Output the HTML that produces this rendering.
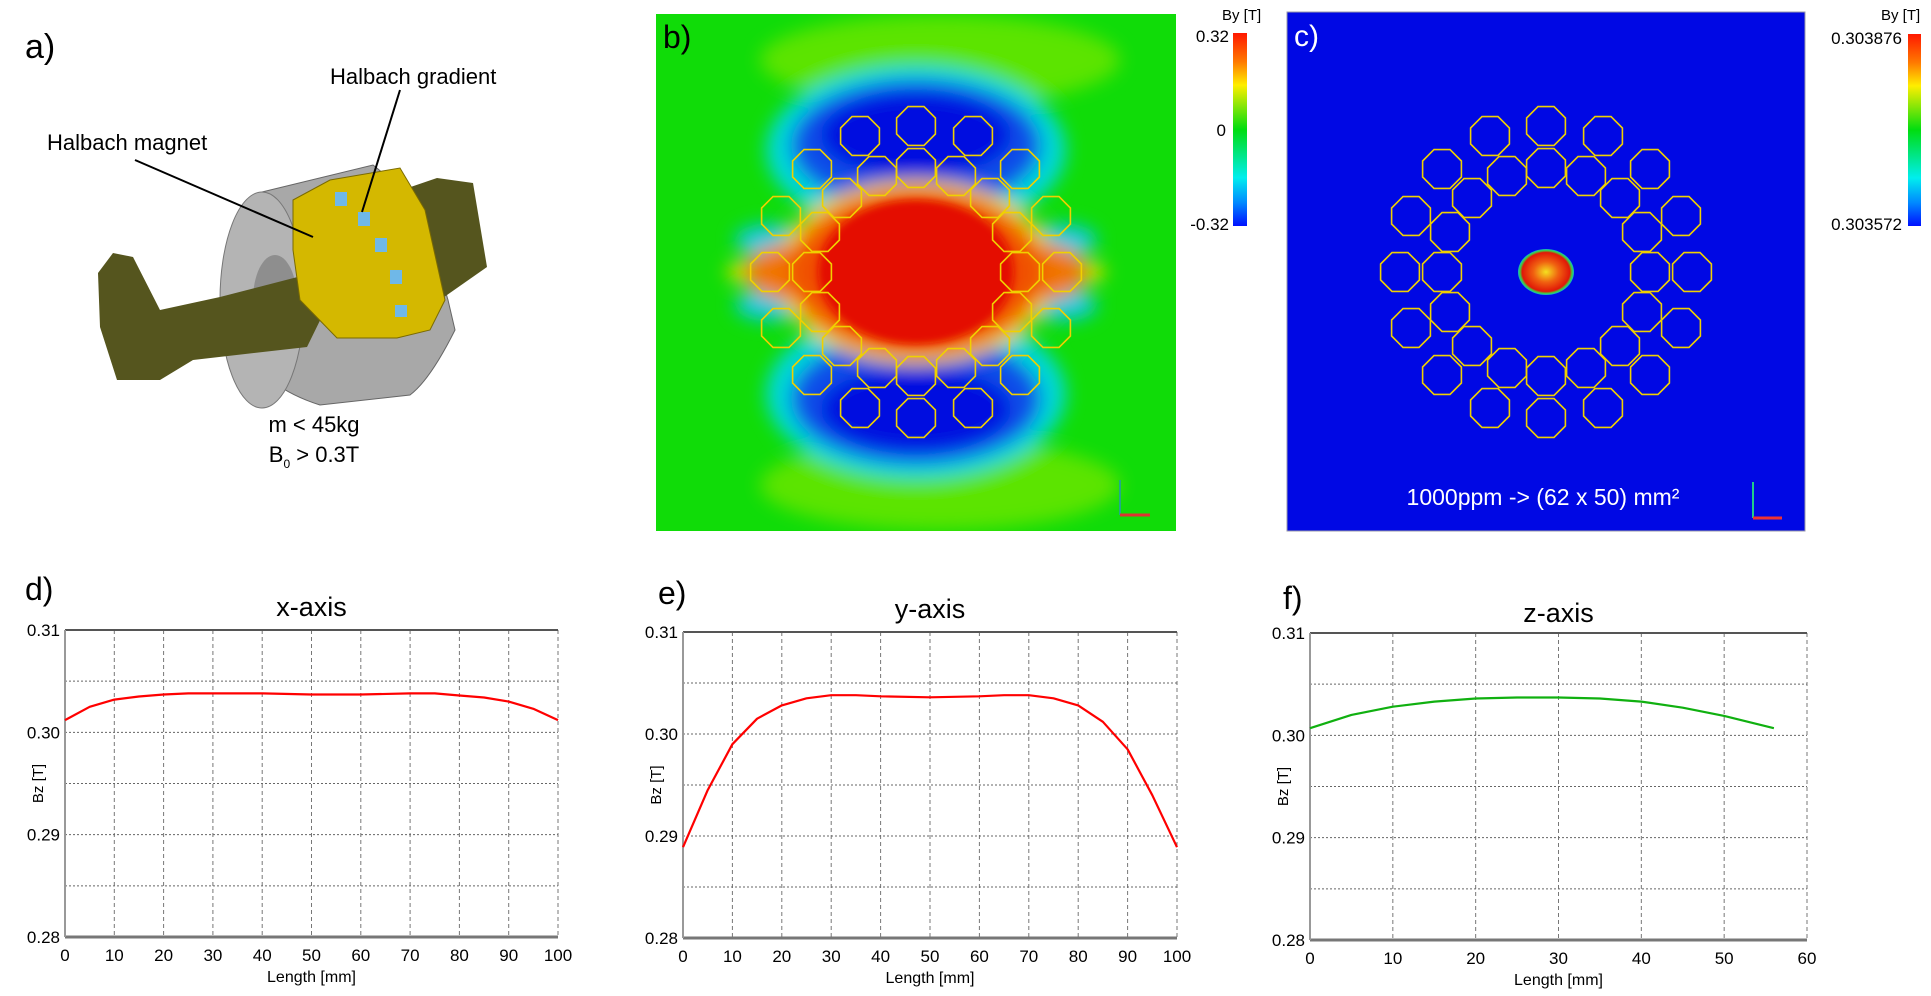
<!DOCTYPE html>
<html><head><meta charset="utf-8"><style>
html,body{margin:0;padding:0;background:#fff;}
svg{display:block;font-family:"Liberation Sans",sans-serif;}
</style></head><body>
<svg id="fig" width="1931" height="996" viewBox="0 0 1931 996">
<defs>
<filter id="blur8" x="-30%" y="-30%" width="160%" height="160%"><feGaussianBlur stdDeviation="9"/></filter>
<filter id="blur4" x="-30%" y="-30%" width="160%" height="160%"><feGaussianBlur stdDeviation="4"/></filter>
<clipPath id="clipB"><rect x="656" y="14" width="520" height="517"/></clipPath>
<linearGradient id="cbar" x1="0" y1="0" x2="0" y2="1">
<stop offset="0" stop-color="#ff1800"/><stop offset="0.15" stop-color="#ff7a00"/><stop offset="0.27" stop-color="#ffee00"/><stop offset="0.5" stop-color="#00dd10"/><stop offset="0.75" stop-color="#00eeee"/><stop offset="0.88" stop-color="#0088ff"/><stop offset="1" stop-color="#0010ff"/>
</linearGradient>
<radialGradient id="spot" cx="0.5" cy="0.5" r="0.5">
<stop offset="0" stop-color="#f4e020"/><stop offset="0.45" stop-color="#f06010"/><stop offset="0.85" stop-color="#e01808"/><stop offset="0.93" stop-color="#40d040"/><stop offset="1" stop-color="#10b0d0"/>
</radialGradient>
</defs>

<!-- Panel a -->
<g>
<text x="25" y="58" font-size="34">a)</text>
<text x="330" y="84" font-size="22">Halbach gradient</text>
<text x="47" y="150" font-size="22">Halbach magnet</text>
<g>
<path d="M262,192 L373,165 Q420,200 448,300 L455,330 Q430,380 410,395 L320,405 Q240,380 222,300 Q228,215 262,192 Z" fill="#a8a8a8" stroke="#666" stroke-width="1"/>
<ellipse cx="262" cy="300" rx="42" ry="108" fill="#b4b4b4" stroke="#777"/>
<ellipse cx="275" cy="300" rx="22" ry="45" fill="#8e8e8e"/>
<path d="M393,193 L437,178 L473,183 L487,267 L437,302 L380,290 Z" fill="#55551e"/>
<path d="M98,273 L113,253 L133,257 L160,310 L220,297 L313,273 L330,300 L307,347 L193,360 L160,380 L117,380 L100,327 Z" fill="#55551e"/>
<path d="M293,200 L330,180 L400,168 L425,210 L445,300 L430,330 L397,338 L337,338 L300,300 L293,250 Z" fill="#d4b800" stroke="#7a6a00" stroke-width="1"/>
<rect x="335" y="192" width="12" height="14" fill="#6fb8e8"/>
<rect x="358" y="212" width="12" height="14" fill="#6fb8e8"/>
<rect x="375" y="238" width="12" height="14" fill="#6fb8e8"/>
<rect x="390" y="270" width="12" height="14" fill="#6fb8e8"/>
<rect x="395" y="305" width="12" height="12" fill="#6fb8e8"/>
<line x1="135" y1="160" x2="313" y2="237" stroke="#000" stroke-width="2"/>
<line x1="400" y1="90" x2="362" y2="212" stroke="#000" stroke-width="2"/>
</g>
<text x="314" y="432" font-size="22" text-anchor="middle">m &lt; 45kg</text>
<text x="314" y="462" font-size="22" text-anchor="middle">B<tspan font-size="12" dy="6">0</tspan><tspan dy="-6"> &gt; 0.3T</tspan></text>
</g>

<!-- Panel b -->
<g>
<g clip-path="url(#clipB)">
<rect x="656" y="14" width="520" height="517" fill="#10dc08"/>
<g filter="url(#blur8)">
<ellipse cx="940" cy="60" rx="180" ry="45" fill="#5ce400"/>
<ellipse cx="940" cy="485" rx="180" ry="45" fill="#5ce400"/>
<ellipse cx="916" cy="150" rx="150" ry="85" fill="#00d8d8"/>
<ellipse cx="916" cy="394" rx="150" ry="85" fill="#00d8d8"/>
<ellipse cx="916" cy="145" rx="125" ry="65" fill="#0a50e8"/>
<ellipse cx="916" cy="399" rx="125" ry="65" fill="#0a50e8"/>
<ellipse cx="916" cy="135" rx="95" ry="42" fill="#0010e0"/>
<ellipse cx="916" cy="409" rx="95" ry="42" fill="#0010e0"/>
<ellipse cx="770" cy="240" rx="35" ry="16" fill="#10c8e0"/>
<ellipse cx="770" cy="305" rx="35" ry="16" fill="#10c8e0"/>
<ellipse cx="1062" cy="240" rx="35" ry="16" fill="#10c8e0"/>
<ellipse cx="1062" cy="305" rx="35" ry="16" fill="#10c8e0"/>
<ellipse cx="916" cy="272" rx="190" ry="24" fill="#f0e000"/>
<ellipse cx="916" cy="272" rx="140" ry="92" fill="#f0d000"/>
<ellipse cx="790" cy="272" rx="45" ry="28" fill="#f08000"/>
<ellipse cx="1042" cy="272" rx="45" ry="28" fill="#f08000"/>
<ellipse cx="916" cy="272" rx="165" ry="18" fill="#f07000"/>
<ellipse cx="916" cy="272" rx="125" ry="82" fill="#f05000"/>
</g>
<ellipse cx="916" cy="272" rx="98" ry="72" fill="#e40a00" filter="url(#blur4)"/>
</g>
<g id="octB"></g>
<g>
<line x1="1120" y1="515" x2="1120" y2="480" stroke="#2a8" stroke-width="2"/>
<line x1="1120" y1="515" x2="1150" y2="515" stroke="#d33" stroke-width="3"/>
</g>
</g>
<g>
<text x="1222" y="20" font-size="15">By [T]</text>
<rect x="1233" y="33" width="14" height="193" fill="url(#cbar)"/>
<text x="1229" y="42" font-size="17" text-anchor="end">0.32</text>
<text x="1226" y="136" font-size="17" text-anchor="end">0</text>
<text x="1229" y="230" font-size="17" text-anchor="end">-0.32</text>
</g>
<text x="663" y="48" font-size="32">b)</text>

<!-- Panel c -->
<g>
<rect x="1287" y="12" width="518" height="519" fill="#0008e4" stroke="#99a" stroke-width="1"/>
<ellipse cx="1546" cy="272" rx="28" ry="23" fill="url(#spot)"/>
<g id="octC"></g>
<text x="1543" y="505" font-size="23" fill="#fff" text-anchor="middle">1000ppm -&gt; (62 x 50) mm²</text>
<line x1="1753" y1="518" x2="1753" y2="482" stroke="#2c8" stroke-width="2"/>
<line x1="1753" y1="518" x2="1782" y2="518" stroke="#e33" stroke-width="3"/>
<text x="1294" y="46" font-size="30" fill="#fff">c)</text>
</g>
<g>
<text x="1881" y="20" font-size="15">By [T]</text>
<rect x="1908" y="34" width="13" height="192" fill="url(#cbar)"/>
<text x="1902" y="44" font-size="17" text-anchor="end">0.303876</text>
<text x="1902" y="230" font-size="17" text-anchor="end">0.303572</text>
</g>

<g id="charts"></g>
</svg>
<script>
// ---- Chart data ----
var xAxisLength = [0,5,10,15,20,25,30,40,50,60,70,75,80,85,90,95,100];
var xAxisBz = [0.3012,0.3025,0.3032,0.3035,0.3037,0.3038,0.3038,0.3038,0.3037,0.3037,0.3038,0.3038,0.3036,0.3034,0.3030,0.3023,0.3012];
var yAxisLength = [0,5,10,15,20,25,30,35,40,50,60,65,70,75,80,85,90,95,100];
var yAxisBz = [0.2889,0.2945,0.2990,0.3015,0.3028,0.3035,0.3038,0.3038,0.3037,0.3036,0.3037,0.3038,0.3038,0.3035,0.3028,0.3012,0.2985,0.2940,0.2889];
var zAxisLength = [0,5,10,15,20,25,30,35,40,45,50,56];
var zAxisBz = [0.3007,0.3020,0.3028,0.3033,0.3036,0.3037,0.3037,0.3036,0.3033,0.3027,0.3019,0.3007];
var yTickLabels = ["0.28","0.29","0.30","0.31"];
var yTicks = [0.28,0.29,0.30,0.31];
var yMinorGrid = [0.285,0.295,0.305];
var xTicks100 = [0,10,20,30,40,50,60,70,80,90,100];
var xTicks60 = [0,10,20,30,40,50,60];

var NS = "http://www.w3.org/2000/svg";
function mk(tag, attrs, parent){ var e=document.createElementNS(NS,tag); for(var k in attrs) e.setAttribute(k,attrs[k]); parent.appendChild(e); return e; }

var octOffsets = [[0,-149],[-56,-139],[57,-139],[0,-107],[-39,-99],[40,-99],[-104,-106],[104,-106],[-74,-77],[74,-77],[-135,-59],[135,-59],[-96,-43],[96,-43],[-146,-3],[146,-3],[-104,-3],[104,-3]];
function drawOcts(g, cx, cy){
  var all=[];
  octOffsets.forEach(function(o){ all.push(o); if(o[1]<-5) all.push([o[0],-o[1]-6]); });
  all.forEach(function(o){
    var x=cx+o[0], y=cy+o[1]+3, r=21, pts=[];
    for(var i=0;i<8;i++){ var a=Math.PI/8+i*Math.PI/4; pts.push((x+r*Math.cos(a)).toFixed(1)+","+(y+r*Math.sin(a)).toFixed(1)); }
    var p=mk("polygon",{points:pts.join(" "),fill:"none",stroke:"#f0d000","stroke-width":"1.6"},g);
    
    
  });
}
drawOcts(document.getElementById("octB"),916,272);
drawOcts(document.getElementById("octC"),1546,272);

function chart(opt){
  var root=document.getElementById("charts");
  var g=mk("g",{},root);
  
  
  var L=opt.left,R=opt.right,T=opt.top,B=opt.bottom;
  function sx(v){return L+(v-opt.xmin)/(opt.xmax-opt.xmin)*(R-L);}
  function sy(v){return B-(v-0.28)/(0.31-0.28)*(B-T);}
  opt.xticks.forEach(function(v){
    if(v>opt.xmin) mk("line",{x1:sx(v),x2:sx(v),y1:T,y2:B,stroke:"#777","stroke-width":"1","stroke-dasharray":"4,3"},g);
    var t=mk("text",{x:sx(v),y:B+24,"font-size":"17","text-anchor":"middle"},g); t.textContent=v;
    
    
  });
  yMinorGrid.concat([0.29,0.30]).forEach(function(v){
    mk("line",{x1:L,x2:R,y1:sy(v),y2:sy(v),stroke:"#666","stroke-width":"1","stroke-dasharray":"2,2"},g);
  });
  mk("line",{x1:L,x2:R,y1:sy(0.31),y2:sy(0.31),stroke:"#555","stroke-width":"2"},g);
  mk("line",{x1:L,x2:R,y1:sy(0.28),y2:sy(0.28),stroke:"#777","stroke-width":"3"},g);
  mk("line",{x1:L,x2:L,y1:T,y2:B,stroke:"#999","stroke-width":"2"},g);
  yTicks.forEach(function(v,i){
    var t=mk("text",{x:L-5,y:sy(v)+6,"font-size":"17","text-anchor":"end"},g); t.textContent=yTickLabels[i];
    
    
  });
  var d=opt.xs.map(function(x,i){return (i?"L":"M")+sx(x).toFixed(1)+","+sy(opt.ys[i]).toFixed(1);}).join(" ");
  var p=mk("path",{d:d,fill:"none",stroke:opt.color,"stroke-width":"2.2","stroke-linejoin":"round"},g);
  
  
  var tt=mk("text",{x:(L+R)/2,y:opt.titleY,"font-size":"27","text-anchor":"middle"},g); tt.textContent=opt.title;
  
  
  var pl=mk("text",{x:opt.labelX,y:opt.labelY,"font-size":"32"},g); pl.textContent=opt.label;
  
  
  var xl=mk("text",{x:(L+R)/2,y:B+45,"font-size":"16","text-anchor":"middle"},g); xl.textContent="Length [mm]";
  
  
  var yl=mk("text",{x:0,y:0,"font-size":"15","text-anchor":"middle",transform:"translate("+(L-22)+","+((T+B)/2)+") rotate(-90)"},g); yl.textContent="Bz [T]";
  
  
}
chart({name:"chart-x-axis",left:65,right:558,top:630,bottom:937,xmin:0,xmax:100,xticks:xTicks100,xs:xAxisLength,ys:xAxisBz,color:"#ff0000",title:"x-axis",titleY:616,label:"d)",labelX:25,labelY:600});
chart({name:"chart-y-axis",left:683,right:1177,top:632,bottom:938,xmin:0,xmax:100,xticks:xTicks100,xs:yAxisLength,ys:yAxisBz,color:"#ff0000",title:"y-axis",titleY:618,label:"e)",labelX:658,labelY:604});
chart({name:"chart-z-axis",left:1310,right:1807,top:633,bottom:940,xmin:0,xmax:60,xticks:xTicks60,xs:zAxisLength,ys:zAxisBz,color:"#10b010",title:"z-axis",titleY:622,label:"f)",labelX:1283,labelY:609});
</script>
</body></html>
